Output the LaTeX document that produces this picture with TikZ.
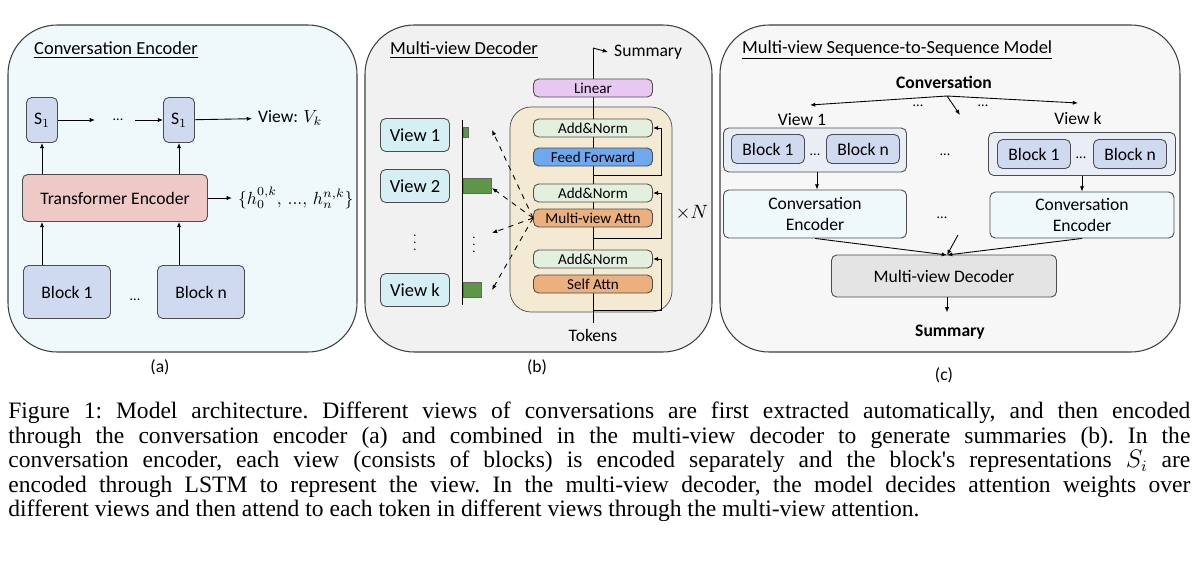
\documentclass[tikz,border=0pt]{standalone}
\usepackage{fontspec}
\setmainfont{Carlito}
\newfontfamily\capfont{Liberation Serif}
\usetikzlibrary{positioning}
\usetikzlibrary{arrows.meta}
\definecolor{panA}{HTML}{EFF8FA}
\definecolor{panB}{HTML}{F1F1F1}
\definecolor{panC}{HTML}{F7F7F7}
\definecolor{blk}{HTML}{CFDAF0}
\definecolor{tenc}{HTML}{EEC9C6}
\definecolor{lin}{HTML}{E8C8F2}
\definecolor{inner}{HTML}{F4EAD3}
\definecolor{addn}{HTML}{E4F0DE}
\definecolor{ffw}{HTML}{6FA8EC}
\definecolor{att}{HTML}{ECB07E}
\definecolor{vw}{HTML}{D6EFF5}
\definecolor{bar}{HTML}{5E9648}
\definecolor{grp}{HTML}{E9EDF5}
\definecolor{cenc}{HTML}{EFF8FA}
\definecolor{mdec}{HTML}{E4E4E4}
\tikzset{
 panel/.style={draw=black!75,rounded corners=28,line width=0.6pt},
 box/.style={draw=black!70,rounded corners=3,line width=0.5pt,inner sep=0pt,font=\fontsize{10}{11}\selectfont},
 ttl/.style={anchor=west,font=\fontsize{10.5}{12}\selectfont},
 arr/.style={-{Latex[length=3pt,width=2.4pt]},line width=0.5pt},
 dots/.style={font=\fontsize{8}{9}\selectfont},
 lbl/.style={font=\fontsize{10}{11}\selectfont}
}
\begin{document}
\begin{tikzpicture}[x=0.02cm,y=-0.02cm]
 \useasboundingbox (0,0) rectangle (1200,575);
 \fill[white] (0,0) rectangle (1200,575);
 % panel (a)
 \draw[panel,fill=panA] (8,25) rectangle (357,352);
 \node[ttl] (ta) at (28,50) {\underline{Conversation Encoder}};
 \node[box,fill=blk,minimum width=31*0.02cm,minimum height=45*0.02cm] (s1) at (42,120) {S$_1$};
 \node[box,fill=blk,minimum width=31*0.02cm,minimum height=45*0.02cm] (s2) at (179,120) {S$_1$};
 \node[dots] (d1) at (118,120) {...};
 \coordinate (c1) at (95,120);
 \coordinate (c2) at (135,120);
 \draw[arr] (s1) -- (c1);
 \draw[arr] (c2) -- (s2);
 \node[anchor=west,lbl] (view) at (252,118) {View: $V_k$};
 \draw[arr] (s2) -- (view);
 \node[box,fill=tenc,minimum width=185*0.02cm,minimum height=47*0.02cm] (te) at (115,198) {Transformer Encoder};
 \node[anchor=west,lbl] (hs) at (232,198) {$\{h_0^{0,k},\,...,\,h_n^{n,k}\}$};
 \draw[arr] (te) -- (hs);
 \node[box,fill=blk,minimum width=87*0.02cm,minimum height=53*0.02cm] (b1) at (67,292) {Block 1};
 \node[box,fill=blk,minimum width=87*0.02cm,minimum height=53*0.02cm] (bn) at (201,292) {Block n};
 \node[dots] (d2) at (135,300) {...};
 \draw[arr] (b1.north -| s1) -- (te.south -| s1);
 \draw[arr] (bn.north -| s2) -- (te.south -| s2);
 \draw[arr] (te.north -| s1) -- (s1);
 \draw[arr] (te.north -| s2) -- (s2);
 \node[lbl] (la) at (160,367) {(a)};
 % panel (b)
 \draw[panel,fill=panB] (365,25) rectangle (712,352);
 \node[ttl] (tb) at (384,50) {\underline{Multi-view Decoder}};
 \draw[rounded corners=12,draw=black!70,fill=inner] (510,107) rectangle (672,312);
 \node[lbl] (tok) at (593,335) {Tokens};
 \node[anchor=west,lbl] (sum) at (608,52) {Summary};
 \coordinate (top) at (593,48);
 \draw[line width=0.5pt] (tok) -- (top);
 \draw[arr] (top) -- (sum.west);
 \foreach \n/\y/\t/\c in {lin/88/Linear/lin,an3/128/Add\&Norm/addn,ff/157/Feed Forward/ffw,an2/193/Add\&Norm/addn,mva/218/Multi-view Attn/att,an1/259/Add\&Norm/addn,sa/284/Self Attn/att}
  \node[box,fill=\c,minimum width=119*0.02cm,minimum height=18*0.02cm,font=\fontsize{8.6}{9}\selectfont] (\n) at (593,\y) {\t};
 \foreach \a/\y in {an3/175,an2/238,an1/310}{
  \coordinate (r\a) at (661,\y);
  \draw[arr] (593,\y) -- (r\a) |- (\a.east);
 }
 \node[font=\fontsize{11}{12}\selectfont] (xn) at (692,213) {$\times N$};
 \foreach \n/\y/\t in {v1/135/View 1,v2/186/View 2,vk/290/View k}
  \node[box,fill=vw,minimum width=69*0.02cm,minimum height=33*0.02cm,font=\fontsize{10.5}{11}\selectfont] (\n) at (415,\y) {\t};
 \node[inner sep=0pt,font=\fontsize{7}{7}\selectfont] (vd) at (415,238) {$\vdots$};
 \node[inner sep=0pt,font=\fontsize{7}{7}\selectfont] (bd) at (474,240) {$\vdots$};
 \coordinate (ax1) at (462,120);
 \coordinate (ax2) at (462,305);
 \draw[line width=0.5pt] (ax1) -- (ax2);
 \fill[bar,draw=black!60] (463,127) rectangle (468,137);
 \fill[bar,draw=black!60] (463,178) rectangle (491,193);
 \fill[bar,draw=black!60] (463,282) rectangle (481,297);
 \foreach \p in {(492,130),(492,188),(492,233),(492,290)}
  \draw[arr,dashed] (mva.west) -- \p;
 \node[lbl] (lb) at (537,367) {(b)};
 % panel (c)
 \draw[panel,fill=panC] (720,25) rectangle (1180,352);
 \node[ttl] (tc) at (736,50) {\underline{Multi-view Sequence-to-Sequence Model}};
 \node[font=\bfseries\fontsize{10}{11}\selectfont] (conv) at (944,82) {Conversation};
 \coordinate (cv) at (947,96);
 \coordinate (cl) at (810,105);
 \coordinate (cr) at (1078,103);
 \coordinate (cm) at (960,115);
 \foreach \e in {cl,cr,cm} \draw[arr] (cv) -- (\e);
 \node[dots] (d3) at (918,106) {...};
 \node[dots] (d4) at (983,106) {...};
 \node[lbl] (lv1) at (802,120) {View 1};
 \node[lbl] (lvk) at (1078,118) {View k};
 \node[box,fill=grp,minimum width=183*0.02cm,minimum height=44*0.02cm] (g1) at (815,150) {};
 \node[box,fill=grp,minimum width=187*0.02cm,minimum height=43*0.02cm] (gk) at (1082,154) {};
 \foreach \n/\x/\y/\t in {g1a/768/149/Block 1,g1b/863/149/Block n,gka/1034/154/Block 1,gkb/1130/154/Block n}
  \node[box,fill=blk,minimum width=73*0.02cm,minimum height=29*0.02cm] (\n) at (\x,\y) {\t};
 \node[dots] (d5) at (815,155) {...};
 \node[dots] (d6) at (1081,158) {...};
 \node[dots] (d7) at (945,155) {...};
 \node[dots] (d8) at (942,218) {...};
 \node[box,fill=cenc,minimum width=183*0.02cm,minimum height=48*0.02cm,align=center,font=\fontsize{10}{11.5}\selectfont] (e1) at (815,214) {Conversation\\Encoder};
 \node[box,fill=cenc,minimum width=184*0.02cm,minimum height=46*0.02cm,align=center,font=\fontsize{10}{11.5}\selectfont] (ek) at (1082,215) {Conversation\\Encoder};
 \draw[arr] (g1.south -| 817,0) -- (e1.north -| 817,0);
 \draw[arr] (gk.south) -- (ek.north);
 \node[box,fill=mdec,minimum width=225*0.02cm,minimum height=42*0.02cm] (md) at (944,276) {Multi-view Decoder};
 \coordinate (mt) at (947,255);
 \coordinate (mm) at (958,235);
 \draw[arr] (e1.south) -- (mt);
 \draw[arr] (ek.south) -- (mt);
 \draw[arr] (mm) -- (mt);
 \node[font=\bfseries\fontsize{10}{11}\selectfont] (sm) at (950,332) {Summary};
 \draw[arr] (md.south -| mt) -- ++(0,15);
 \node[lbl] (lc) at (944,375) {(c)};
 % caption
 \node[anchor=north west,text width=1182*0.02cm,align=justify,inner sep=0pt,font=\capfont\frenchspacing\fontsize{13.4}{13.9}\selectfont] (cap) at (8,402) {Figure 1: Model architecture. Different views of conversations are first extracted automatically, and then encoded\linebreak through the conversation encoder (a) and combined in the multi-view decoder to generate summaries (b). In the\linebreak conversation encoder, each view (consists of blocks) is encoded separately and the block's representations $S_i$ are\linebreak encoded through LSTM to represent the view. In the multi-view decoder, the model decides attention weights over\linebreak different views and then attend to each token in different views through the multi-view attention.};
\end{tikzpicture}
\end{document}
